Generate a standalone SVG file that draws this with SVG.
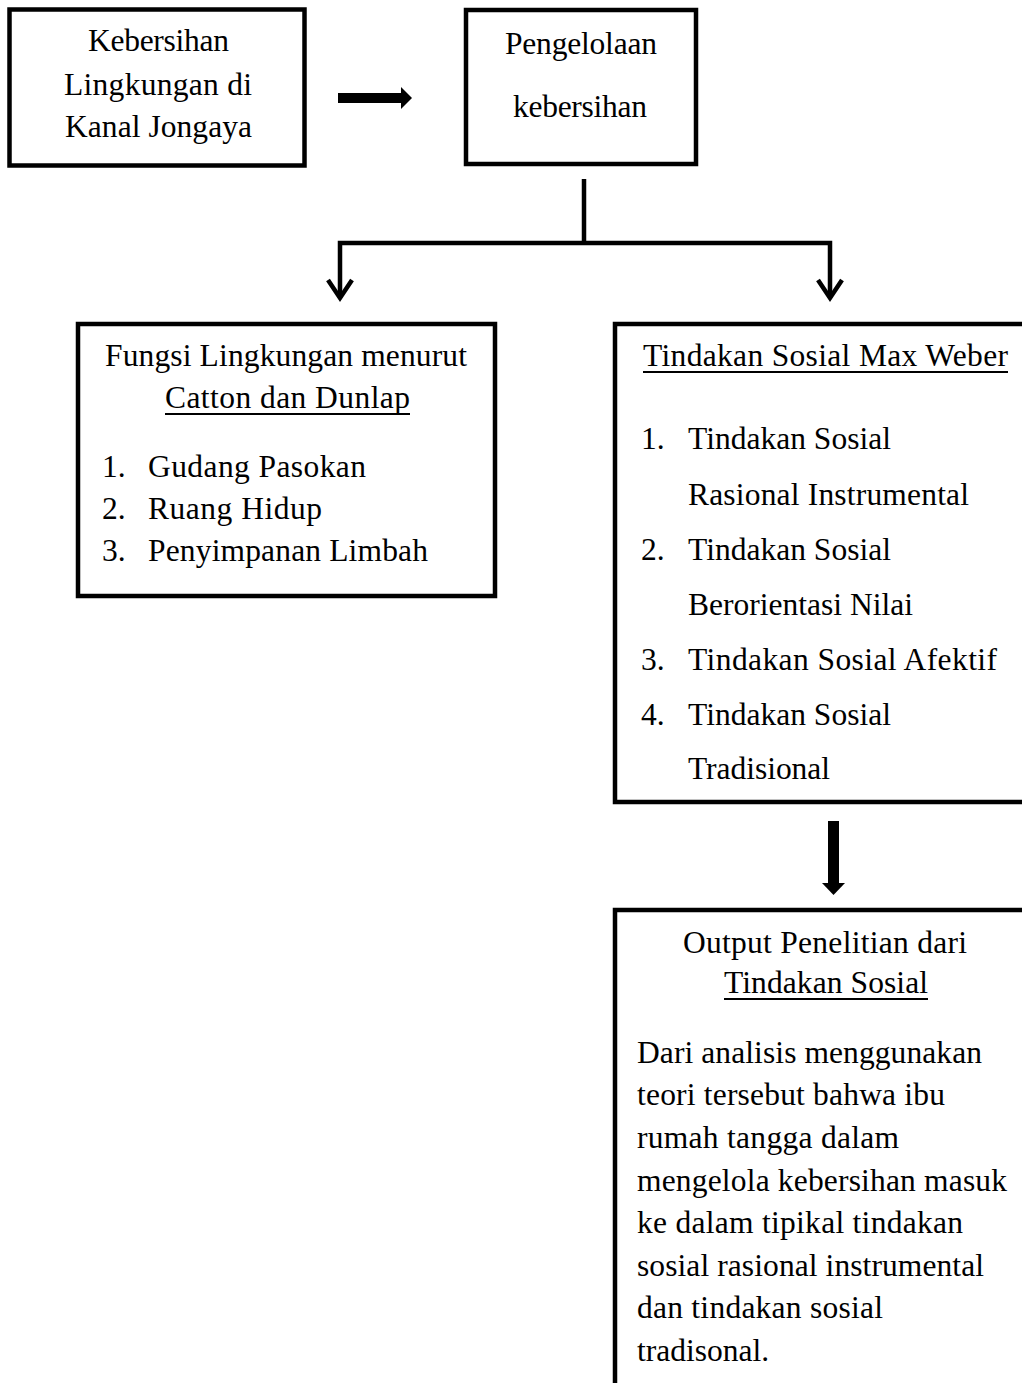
<svg xmlns="http://www.w3.org/2000/svg" width="1022" height="1383" viewBox="0 0 1022 1383">
<style>
.box{fill:#fff;stroke:#000;stroke-width:4.5}
.t{font-family:"Liberation Serif","Times New Roman",serif;font-size:31.5px;fill:#000}
.ul{stroke:#000;stroke-width:2}
.ln{fill:none;stroke:#000;stroke-width:4.5}
.chev{fill:none;stroke:#000;stroke-width:4.5;stroke-linejoin:miter}
.blk{fill:#000}
</style>
<rect width="1022" height="1383" fill="#fff"/>

<g id="connectors">
<rect class="blk" x="338" y="93" width="64" height="10"/>
<polygon class="blk" points="401,87 412,98 401,109"/>
<line class="ln" x1="584" y1="179" x2="584" y2="243"/>
<polyline class="ln" points="340,298 340,243 830,243 830,298"/>
<polyline class="chev" points="328,280 340,298 352,280"/>
<polyline class="chev" points="818,280 830,298 842,280"/>
<rect class="blk" x="828" y="821" width="11" height="63"/>
<polygon class="blk" points="822,883 845,883 833.5,895"/>
</g>

<g id="node-kebersihan-lingkungan">
<rect class="box" x="9.5" y="9.5" width="295" height="156"/>
<text class="t" x="88" y="51" textLength="141" lengthAdjust="spacing">Kebersihan</text>
<text class="t" x="64" y="95" textLength="188" lengthAdjust="spacing">Lingkungan di</text>
<text class="t" x="65" y="137" textLength="187" lengthAdjust="spacing">Kanal Jongaya</text>
</g>

<g id="node-pengelolaan">
<rect class="box" x="466" y="10" width="230" height="154"/>
<text class="t" x="505" y="54" textLength="152" lengthAdjust="spacing">Pengelolaan</text>
<text class="t" x="513" y="117" textLength="134" lengthAdjust="spacing">kebersihan</text>
</g>

<g id="node-fungsi-lingkungan">
<rect class="box" x="78" y="324" width="417" height="272"/>
<text class="t" x="105" y="366" textLength="362" lengthAdjust="spacing">Fungsi Lingkungan menurut</text>
<text class="t" x="165" y="408" textLength="245" lengthAdjust="spacing">Catton dan Dunlap</text>
<line class="ul" x1="165" y1="414" x2="410" y2="414"/>
<text class="t" x="102" y="477">1.</text>
<text class="t" x="148" y="477" textLength="218" lengthAdjust="spacing">Gudang Pasokan</text>
<text class="t" x="102" y="519">2.</text>
<text class="t" x="148" y="519" textLength="174" lengthAdjust="spacing">Ruang Hidup</text>
<text class="t" x="102" y="561">3.</text>
<text class="t" x="148" y="561" textLength="280" lengthAdjust="spacing">Penyimpanan Limbah</text>
</g>

<g id="node-tindakan-sosial">
<rect class="box" x="615" y="324" width="430" height="478"/>
<text class="t" x="643" y="366" textLength="365" lengthAdjust="spacing">Tindakan Sosial Max Weber</text>
<line class="ul" x1="643" y1="372" x2="1008" y2="372"/>
<text class="t" x="641" y="449">1.</text>
<text class="t" x="688" y="449" textLength="203" lengthAdjust="spacing">Tindakan Sosial</text>
<text class="t" x="688" y="505" textLength="281" lengthAdjust="spacing">Rasional Instrumental</text>
<text class="t" x="641" y="560">2.</text>
<text class="t" x="688" y="560" textLength="203" lengthAdjust="spacing">Tindakan Sosial</text>
<text class="t" x="688" y="615" textLength="225" lengthAdjust="spacing">Berorientasi Nilai</text>
<text class="t" x="641" y="670">3.</text>
<text class="t" x="688" y="670" textLength="309" lengthAdjust="spacing">Tindakan Sosial Afektif</text>
<text class="t" x="641" y="725">4.</text>
<text class="t" x="688" y="725" textLength="203" lengthAdjust="spacing">Tindakan Sosial</text>
<text class="t" x="688" y="779" textLength="142" lengthAdjust="spacing">Tradisional</text>
</g>

<g id="node-output">
<rect class="box" x="615" y="910" width="430" height="500"/>
<text class="t" x="683" y="953" textLength="284" lengthAdjust="spacing">Output Penelitian dari</text>
<text class="t" x="724" y="993" textLength="204" lengthAdjust="spacing">Tindakan Sosial</text>
<line class="ul" x1="724" y1="999" x2="928" y2="999"/>
<text class="t" x="637" y="1063" textLength="345" lengthAdjust="spacing">Dari analisis menggunakan</text>
<text class="t" x="637" y="1105" textLength="308" lengthAdjust="spacing">teori tersebut bahwa ibu</text>
<text class="t" x="637" y="1148" textLength="262" lengthAdjust="spacing">rumah tangga dalam</text>
<text class="t" x="637" y="1191" textLength="370" lengthAdjust="spacing">mengelola kebersihan masuk</text>
<text class="t" x="637" y="1233" textLength="326" lengthAdjust="spacing">ke dalam tipikal tindakan</text>
<text class="t" x="637" y="1276" textLength="347" lengthAdjust="spacing">sosial rasional instrumental</text>
<text class="t" x="637" y="1318" textLength="246" lengthAdjust="spacing">dan tindakan sosial</text>
<text class="t" x="637" y="1361" textLength="132" lengthAdjust="spacing">tradisonal.</text>
</g>
</svg>
